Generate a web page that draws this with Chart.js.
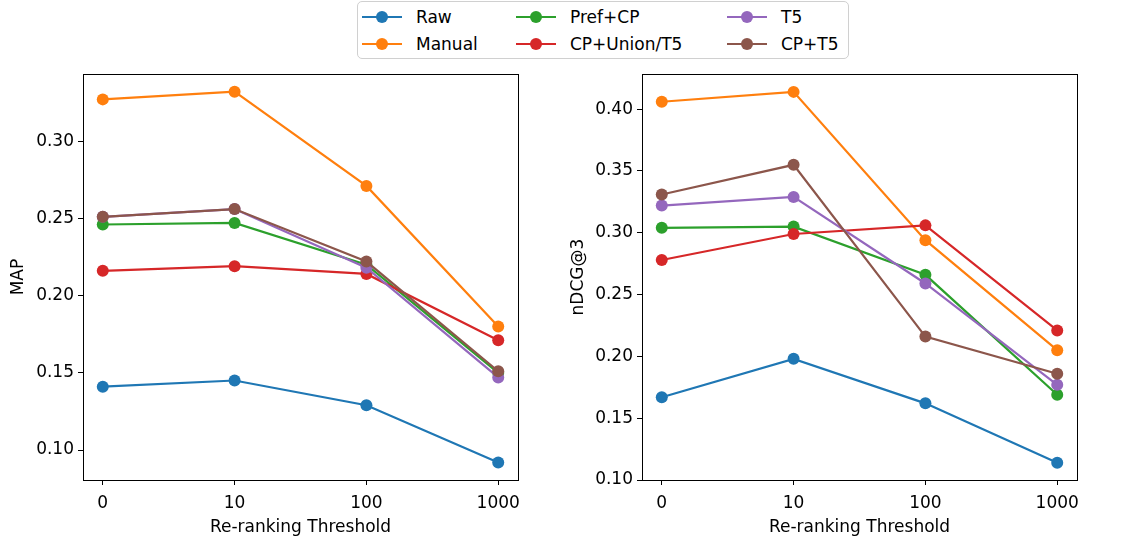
<!DOCTYPE html>
<html>
<head>
<meta charset="utf-8">
<script src="https://cdn.jsdelivr.net/npm/chart.js@4/dist/chart.umd.min.js"></script>
<style>
  body { margin: 0; background: #fff; font-family: "DejaVu Sans", sans-serif; }
  #wrap { position: relative; width: 1121px; height: 542px; overflow: hidden; }
  .panel { position: absolute; top: 60px; height: 482px; }
  #legend { position: absolute; left: 357px; top: 1px; width: 490px; height: 56px;
            border: 1px solid #d0d0d0; border-radius: 5px; background: #fff; }
  .item { position: absolute; height: 20px; font-size: 17px; color: #000; line-height: 20px; }
  .item .ln { position: absolute; left: 0; top: 9px; width: 40px; height: 2px; }
  .item .dot { position: absolute; left: 14px; top: 4px; width: 12px; height: 12px; border-radius: 50%; }
  .item .tx { position: absolute; left: 54px; top: 0; white-space: nowrap; }
</style>
</head>
<body>
<div id="wrap">
  <div class="panel" style="left:0;width:540px"><canvas id="mapChart"></canvas></div>
  <div class="panel" style="left:560px;width:561px"><canvas id="ndcgChart"></canvas></div>
  <div id="legend"></div>
</div>
<script>
// eje x (umbral de re-ranking)
var umbrales = ['0', '10', '100', '1000'];
var metodos = ['Raw', 'Manual', 'Pref+CP', 'CP+Union/T5', 'T5', 'CP+T5'];
var colores = ['#1f77b4', '#ff7f0e', '#2ca02c', '#d62728', '#9467bd', '#8c564b'];

// MAP por metodo
var mapRaw = [0.141, 0.145, 0.129, 0.092];
var mapManual = [0.327, 0.332, 0.271, 0.180];
var mapPrefCP = [0.246, 0.247, 0.220, 0.150];
var mapCPUnion = [0.216, 0.219, 0.214, 0.171];
var mapT5 = [0.251, 0.256, 0.218, 0.147];
var mapCPT5 = [0.251, 0.256, 0.222, 0.151];

// nDCG@3 por metodo
var ndcgRaw = [0.167, 0.198, 0.162, 0.114];
var ndcgManual = [0.406, 0.414, 0.294, 0.205];
var ndcgPrefCP = [0.304, 0.305, 0.266, 0.169];
var ndcgCPUnion = [0.278, 0.299, 0.306, 0.221];
var ndcgT5 = [0.322, 0.329, 0.259, 0.177];
var ndcgCPT5 = [0.331, 0.355, 0.216, 0.186];

// marco completo alrededor del area del grafico
var marco = {
    id: 'marco',
    afterDraw: function(chart) {
        var a = chart.chartArea, c = chart.ctx;
        c.save();
        c.strokeStyle = '#000';
        c.lineWidth = 1;
        c.strokeRect(Math.round(a.left) + 0.5, Math.round(a.top) + 0.5,
                     Math.round(a.right - a.left), Math.round(a.bottom - a.top));
        c.restore();
    }
};

function puntos(valores) {
    return valores.map(function(v, i) { return { x: i, y: v }; });
}

function mostrarGrafico(id, series, tituloY, yMin, yMax, anchoY, padRight) {
    var ctx = document.getElementById(id);
    var datasets = series.map(function(s, i) {
        return {
            label: metodos[i],
            data: puntos(s),
            borderColor: colores[i],
            backgroundColor: colores[i],
            borderWidth: 2.2,
            pointRadius: 6,
            pointHoverRadius: 6,
            pointBorderWidth: 0,
            order: series.length - i
        };
    });
    var fuente = { family: 'DejaVu Sans', size: 17 };
    return new Chart(ctx, {
        type: 'line',
        data: { datasets: datasets },
        plugins: [marco],
        options: {
            responsive: true,
            maintainAspectRatio: false,
            animation: false,
            layout: { padding: { top: 14, right: padRight, left: 0, bottom: 0 } },
            plugins: { legend: { display: false }, tooltip: { enabled: false } },
            scales: {
                x: {
                    type: 'linear',
                    min: -0.15, max: 3.15,
                    afterFit: function(s) { s.height = 62; },
                    ticks: {
                        stepSize: 1, includeBounds: false, color: '#000', font: fuente, padding: 8,
                        maxRotation: 0,
                        callback: function(v) { return umbrales[v] !== undefined && Number.isInteger(v) ? umbrales[v] : ''; }
                    },
                    grid: { drawOnChartArea: false, drawTicks: true, tickLength: 5, color: '#000' },
                    border: { color: '#000' },
                    title: { display: true, text: 'Re-ranking Threshold', color: '#000', font: fuente, padding: { top: 2, bottom: 4 } }
                },
                y: {
                    min: yMin, max: yMax,
                    afterFit: function(s) { s.width = anchoY; },
                    ticks: {
                        stepSize: 0.05, includeBounds: false, color: '#000', font: fuente, padding: 4,
                        callback: function(v) { return v.toFixed(2); }
                    },
                    grid: { drawOnChartArea: false, drawTicks: true, tickLength: 5, color: '#000' },
                    border: { color: '#000' },
                    title: { display: true, text: tituloY, color: '#000', font: fuente, padding: { top: 8, bottom: 4 } }
                }
            }
        }
    });
}

mostrarGrafico('mapChart', [mapRaw, mapManual, mapPrefCP, mapCPUnion, mapT5, mapCPT5],
               'MAP', 0.0806, 0.3433, 83, 22);
mostrarGrafico('ndcgChart', [ndcgRaw, ndcgManual, ndcgPrefCP, ndcgCPUnion, ndcgT5, ndcgCPT5],
               'nDCG@3', 0.10, 0.4283, 82, 44);

// leyenda en columnas (orden por columna como en matplotlib)
var leyenda = document.getElementById('legend');
var colX = [4, 158, 369];
var filaY = [5, 32];
metodos.forEach(function(m, i) {
    var item = document.createElement('div');
    item.className = 'item';
    item.style.left = colX[Math.floor(i / 2)] + 'px';
    item.style.top = filaY[i % 2] + 'px';
    item.innerHTML = '<div class="ln" style="background:' + colores[i] + '"></div>' +
                     '<div class="dot" style="background:' + colores[i] + '"></div>' +
                     '<div class="tx">' + m + '</div>';
    leyenda.appendChild(item);
});
</script>
</body>
</html>
